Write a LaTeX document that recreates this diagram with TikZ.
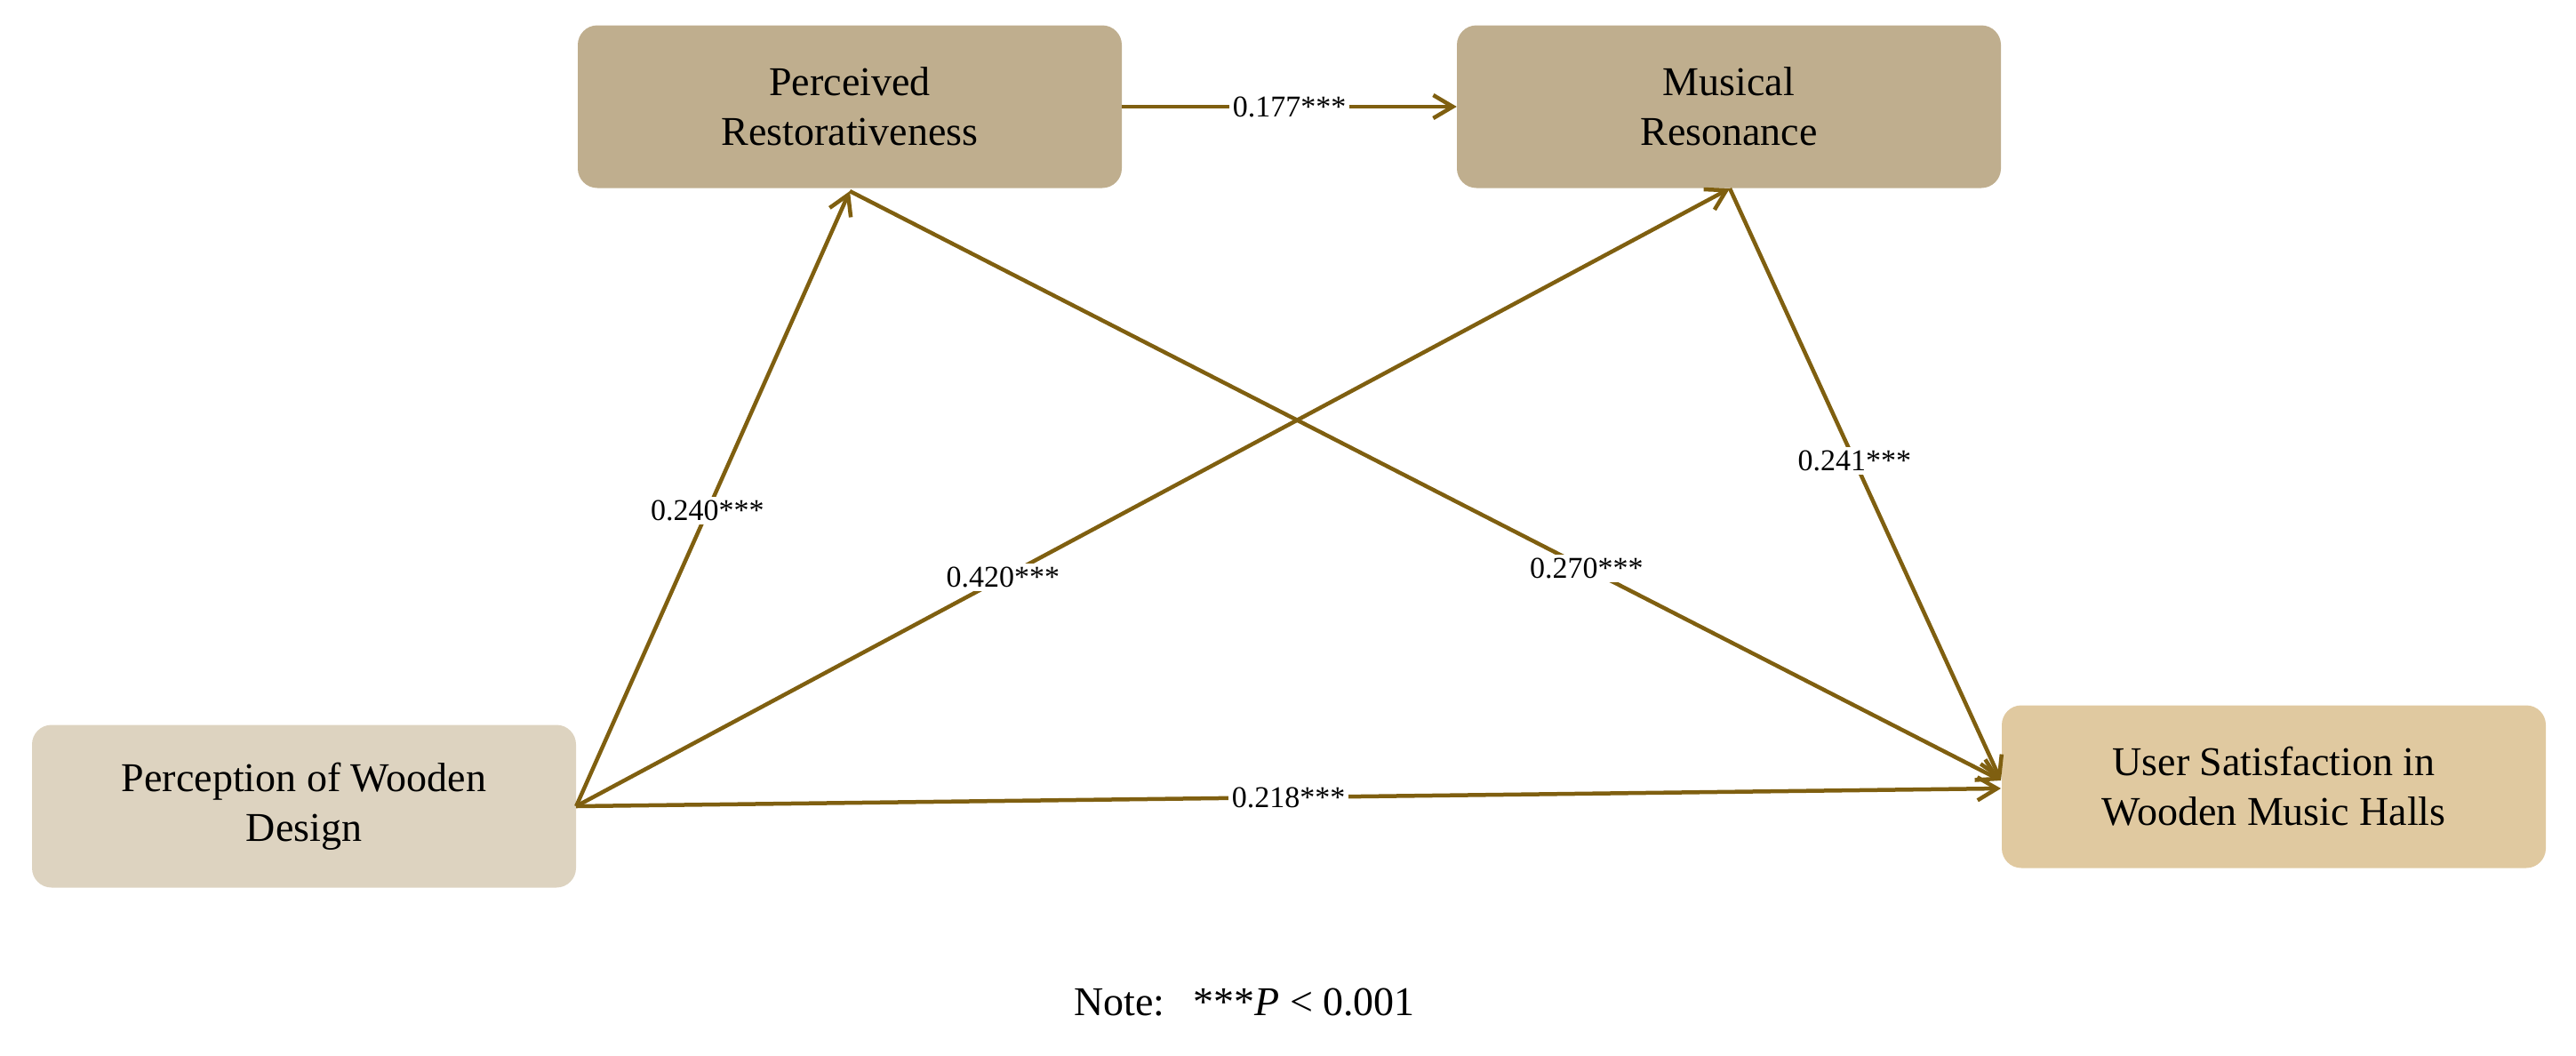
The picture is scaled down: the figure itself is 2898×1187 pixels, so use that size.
\documentclass[tikz,border=0pt]{standalone}
\usepackage{fontspec}
\setmainfont{Liberation Serif}
\usetikzlibrary{arrows.meta}
\definecolor{topbox}{HTML}{BFAE8E}
\definecolor{leftbox}{HTML}{DDD3C0}
\definecolor{rightbox}{HTML}{E0C9A0}
\definecolor{arr}{HTML}{7F5F10}
\begin{document}
\begin{tikzpicture}[x=1pt,y=-1pt,
  box/.style={rounded corners=22pt,minimum width=612pt,minimum height=183pt,align=center,font=\fontsize{46}{56}\selectfont,inner sep=0pt},
  lab/.style={fill=white,inner sep=4pt,font=\fontsize{34}{40}\selectfont},
  con/.style={draw=arr,line width=4.5pt,-{Straight Barb[length=22pt,width=26pt,line width=4.5pt]}}]
\useasboundingbox (0,0) rectangle (2898,1187);
\node[box,fill=topbox] (pr) at (956,120) {Perceived\\Restorativeness};
\node[box,fill=topbox] (mr) at (1945,120) {Musical\\Resonance};
\node[box,fill=leftbox] (pwd) at (342,907) {Perception of Wooden\\Design};
\node[box,fill=rightbox] (us) at (2558,885) {User Satisfaction in\\Wooden Music Halls};
\coordinate (prb) at (956,215);
\coordinate (mrb) at (1946,212);
\coordinate (usl) at (2251,878);
\coordinate (usl2) at (2251,887);
\draw[con] (pwd.east) -- (prb) node[lab,pos=0.48] {0.240***};
\draw[con] (pwd.east) -- (mrb) node[lab,pos=0.37] {0.420***};
\draw[con] (prb) -- (usl) node[lab,pos=0.64] {0.270***};
\draw[con] (mrb) -- (usl) node[lab,pos=0.46] {0.241***};
\draw[con] (pwd.east) -- (usl2) node[lab,pos=0.5] {0.218***};
\draw[con] (pr.east) -- (mr.west) node[lab,pos=0.5] {0.177***};
\node[font=\fontsize{46}{56}\selectfont] (note) at (1400,1128) {Note:\hspace{0.7em}***\textit{P} < 0.001};
\end{tikzpicture}
\end{document}
